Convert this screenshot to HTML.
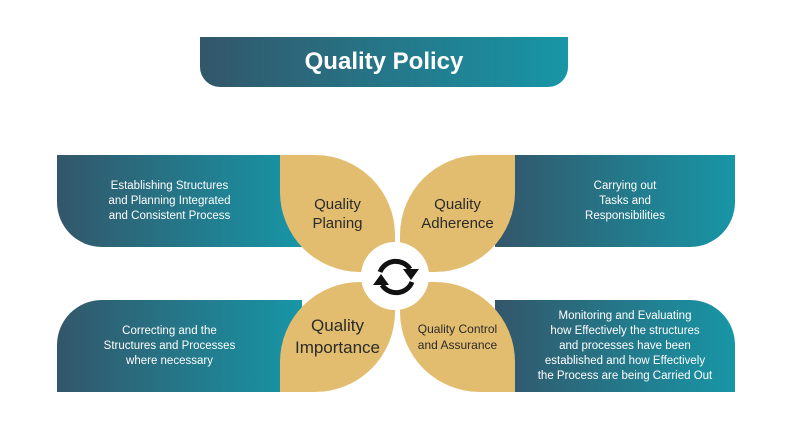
<!DOCTYPE html>
<html><head><style>
body{margin:0;width:795px;height:432px;background:#fff;position:relative;overflow:hidden;font-family:"Liberation Sans",sans-serif}
.a{position:absolute}
.g{background:linear-gradient(90deg,#33566a,#1796a6)}
.bar{color:#fff;font-size:11.5px;line-height:15px;text-align:center;display:flex;align-items:center;justify-content:center}
.leaf{background:#e3bd6f;color:#2a2a2a;text-align:center;display:flex;align-items:center;justify-content:center}
</style></head><body>
<div class="a g" style="left:200px;top:37px;width:368px;height:50px;border-radius:0 0 20px 20px;color:#fff;font-weight:bold;font-size:24px;display:flex;align-items:center;justify-content:center">Quality Policy</div>

<div class="a g bar" style="left:57px;top:155px;width:245px;height:92px;border-radius:0 0 0 45px;padding-right:20px;box-sizing:border-box">Establishing Structures<br>and Planning Integrated<br>and Consistent Process</div>
<div class="a g bar" style="left:495px;top:155px;width:240px;height:92px;border-radius:0 0 45px 0;padding-left:20px;box-sizing:border-box">Carrying out<br>Tasks and<br>Responsibilities</div>
<div class="a g bar" style="left:57px;top:300px;width:245px;height:92px;border-radius:45px 0 0 0;padding-right:20px;box-sizing:border-box">Correcting and the<br>Structures and Processes<br>where necessary</div>
<div class="a g bar" style="left:495px;top:300px;width:240px;height:92px;border-radius:0 45px 0 0;padding-left:20px;box-sizing:border-box">Monitoring and Evaluating<br>how Effectively the structures<br>and processes have been<br>established and how Effectively<br>the Process are being Carried Out</div>

<div class="a leaf" style="left:280px;top:155px;width:115px;height:117px;border-radius:0 80px 0 80px;font-size:15px;line-height:19px">Quality<br>Planing</div>
<div class="a leaf" style="left:400px;top:155px;width:115px;height:117px;border-radius:80px 0 80px 0;font-size:15px;line-height:19px">Quality<br>Adherence</div>
<div class="a leaf" style="left:280px;top:282px;width:115px;height:110px;border-radius:80px 0 80px 0;font-size:17px;line-height:22px">Quality<br>Importance</div>
<div class="a leaf" style="left:400px;top:282px;width:115px;height:110px;border-radius:0 80px 0 80px;font-size:12px;line-height:16px">Quality Control<br>and Assurance</div>

<div class="a" style="left:361px;top:242px;width:68px;height:68px;border-radius:50%;background:#fff"></div>
<svg class="a" style="left:370px;top:252px" width="52" height="50" viewBox="0 0 52 50">
<path d="M10 20 A17 17 0 0 1 40 17" fill="none" stroke="#111" stroke-width="5"/>
<polygon points="33,17 49,17 41,28" fill="#111"/>
<path d="M42 30 A17 17 0 0 1 12 33" fill="none" stroke="#111" stroke-width="5"/>
<polygon points="3,33 19,33 11,22" fill="#111"/>
</svg>
</body></html>
